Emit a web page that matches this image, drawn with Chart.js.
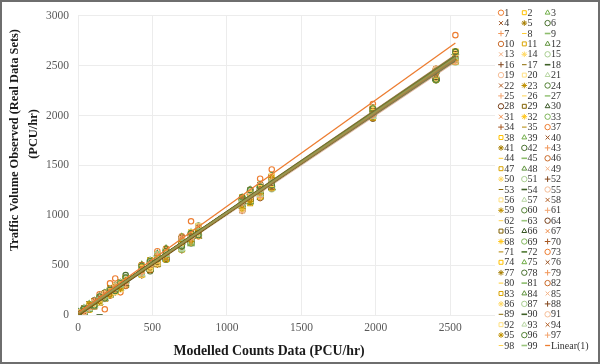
<!DOCTYPE html>
<html>
<head>
<meta charset="utf-8">
<script src="https://cdn.jsdelivr.net/npm/chart.js@4.4.1/dist/chart.umd.min.js"></script>
<style>
html,body{margin:0;padding:0;background:#ffffff;}
#wrap{width:600px;height:364px;position:relative;}
canvas{display:block;}
</style>
</head>
<body>
<div id="wrap"><canvas id="c" width="600" height="364"></canvas></div>
<script>
// ---------------- DATA ----------------
const modelledCounts = [5, 40, 75, 110, 145, 180, 215, 250, 285, 320, 428, 484, 533, 591, 697, 759, 809, 1102, 1156, 1223, 1301, 1980, 2404, 2534];

const seriesLabels = [1,2,3,4,5,6,7,8,9,10,11,12,13,14,15,16,17,18,19,20,21,22,23,24,25,26,27,28,29,30,31,32,33,34,35,
  37,38,39,40,41,42,43,44,45,46,47,48,49,50,51,52,53,54,55,56,57,58,59,60,61,62,63,64,65,66,67,68,69,70,
  71,72,73,74,75,76,77,78,79,80,81,82,83,84,85,86,87,88,89,90,91,92,93,94,95,96,97,98,99];

const trendLabel = 'Linear(1)';
const xTitle = 'Modelled Counts Data (PCU/hr)';
const yTitleLines = ['Traffic Volume Observed (Real Data Sets)', '(PCU/hr)'];
const xTickValues = [0, 500, 1000, 1500, 2000, 2500];
const yTickValues = [0, 500, 1000, 1500, 2000, 2500, 3000];

// observed volumes per series (same order as seriesLabels), one value per modelled count
const observedBySeries = [
 [18,45,95,128,207,57,317,367,227,375,460,533,640,667,790,940,850,1180,1240,1367,1460,2117,2460,2807],
 [12,28,98,95,170,160,245,236,318,305,485,452,590,562,748,728,875,1060,1238,1190,1372,1985,2460,2540],
 [0,66,60,138,126,210,198,280,268,350,402,535,510,642,662,815,790,1165,1130,1295,1268,2062,2365,2628],
 [22,35,90,100,175,170,232,290,275,362,470,455,600,570,740,742,868,1170,1228,1180,1360,1998,2452,2548],
 [3,58,62,140,140,215,248,232,322,300,395,540,518,565,765,808,795,1050,1145,1298,1270,2070,2372,2630],
 [25,20,102,90,178,195,200,278,262,400,492,440,572,650,680,732,880,1158,1245,1205,1375,2035,2358,2640],
 [8,55,55,142,122,220,244,222,330,352,415,525,502,638,645,800,810,1070,1150,1170,1290,1975,2470,2548],
 [16,30,95,125,168,158,255,288,300,368,478,530,596,548,745,820,782,1175,1235,1300,1265,2058,2435,2565],
 [1,60,108,85,150,200,190,240,258,312,405,468,560,648,700,725,878,1055,1130,1212,1385,2010,2375,2625],
 [28,42,58,135,182,178,226,296,318,292,472,450,518,575,770,790,815,1150,1205,1268,1300,2080,2448,2552],
 [5,70,82,100,120,218,262,235,272,358,420,520,608,625,660,822,860,1180,1120,1190,1365,1980,2380,2642],
 [14,22,96,142,150,162,240,272,325,300,500,545,570,560,725,712,788,1085,1250,1292,1275,2048,2462,2538],
 [20,48,52,92,172,206,200,226,305,372,412,458,516,660,755,800,898,1165,1168,1172,1350,2005,2352,2635],
 [0,32,108,128,132,222,252,285,270,340,458,528,592,590,672,745,805,1060,1222,1262,1395,2065,2442,2560],
 [30,62,70,105,185,175,195,250,330,298,485,448,538,635,782,832,870,1175,1150,1310,1262,1970,2468,2532],
 [9,25,60,150,128,165,232,282,262,368,398,510,505,570,650,735,792,1100,1260,1205,1340,2075,2365,2632],
 [13,56,100,95,150,208,268,230,312,310,475,548,602,652,730,812,892,1040,1170,1282,1378,2030,2455,2558],
 [6,38,84,130,0,182,215,262,295,338,430,488,560,605,715,765,840,1130,1195,1250,1330,2025,2420,2590],
 [24,24,66,88,172,168,245,286,322,305,495,478,575,556,760,722,878,1090,1238,1195,1290,2072,2360,2628],
 [2,68,90,140,130,218,198,238,265,360,410,538,520,655,668,822,800,1182,1140,1298,1380,1985,2462,2545],
 [19,44,110,106,178,180,258,276,278,345,462,462,610,580,742,752,885,1140,1222,1225,1285,2052,2448,2560],
 [10,18,62,130,140,155,210,292,310,300,488,522,505,628,690,800,818,1065,1160,1290,1360,1992,2370,2638],
 [27,58,78,92,185,200,238,236,270,368,420,470,590,566,778,738,860,1160,1255,1178,1345,2078,2440,2555],
 [0,50,102,135,160,222,222,265,328,318,480,548,560,645,655,815,800,1095,1135,1280,1300,1978,2382,2630],
 [12,30,50,110,124,178,262,248,282,355,400,482,512,600,752,750,895,1185,1228,1198,1392,2045,2350,2640],
 [7,66,92,140,180,165,200,284,315,302,498,462,598,578,700,830,785,1118,1176,1300,1275,2062,2475,2545],
 [23,34,106,98,140,210,240,232,300,375,438,530,560,658,765,765,880,1062,1245,1222,1362,2002,2395,2625],
 [4,52,68,145,168,190,212,282,270,328,470,490,535,565,675,732,822,1170,1155,1305,1310,2075,2440,2562],
 [16,26,98,86,135,170,252,250,320,310,415,452,595,620,735,818,800,1050,1240,1185,1385,1988,2462,2548],
 [11,64,58,130,182,205,224,290,282,350,490,540,525,596,770,780,885,1150,1168,1275,1280,2058,2368,2632],
 [21,40,104,105,138,215,236,238,310,298,432,482,580,650,665,735,810,1180,1215,1215,1368,2012,2430,2560],
 [3,28,76,138,170,160,205,280,270,362,475,528,512,585,725,810,868,1080,1255,1290,1298,2070,2454,2540],
 [29,56,60,112,148,195,262,250,320,322,405,472,605,630,752,752,792,1160,1142,1230,1390,1975,2372,2636],
 [8,40,110,92,188,180,215,238,265,352,465,535,548,590,690,828,888,1045,1232,1205,1276,2066,2445,2552],
 [14,70,78,142,126,212,250,282,300,305,500,468,520,668,785,740,815,1172,1175,1300,1350,2040,2362,2630],
 [0,22,92,110,168,190,196,270,322,340,425,512,600,578,712,795,850,1120,1230,1218,1302,2000,2458,2566],
 [20,60,54,128,140,168,268,245,282,372,488,482,530,648,660,812,872,1060,1155,1285,1388,2072,2368,2628],
 [6,32,100,100,178,222,232,286,300,318,410,535,608,605,758,740,800,1178,1250,1180,1310,2018,2440,2550],
 [26,46,66,140,130,184,205,236,330,300,480,462,515,590,718,825,888,1108,1185,1262,1280,1982,2378,2640],
 [2,64,94,96,176,172,252,272,270,362,440,545,580,660,690,755,832,1052,1132,1300,1370,2060,2452,2545],
 [15,30,82,132,148,210,220,292,312,310,495,495,552,555,768,720,880,1168,1242,1208,1398,1995,2362,2632],
 [22,52,58,112,185,175,240,242,285,350,402,458,598,632,680,812,790,1110,1205,1288,1288,2070,2465,2540],
 [5,24,108,148,132,205,202,282,318,330,470,528,520,600,745,825,862,1180,1160,1222,1345,2032,2390,2625],
 [18,62,72,88,168,158,265,258,272,375,398,500,565,648,705,732,895,1040,1250,1300,1378,2008,2450,2558],
 [10,38,98,122,140,215,215,238,325,298,488,478,598,568,770,775,805,1140,1172,1180,1272,2062,2370,2635],
 [28,56,64,105,178,192,230,290,290,360,445,545,530,620,665,825,870,1085,1222,1290,1350,2022,2460,2550],
 [1,26,90,140,122,170,258,262,265,318,505,462,505,645,745,722,818,1175,1138,1238,1395,2068,2375,2630],
 [16,68,54,96,188,210,205,246,318,338,420,505,588,575,780,795,882,1062,1248,1212,1290,1978,2442,2568],
 [9,45,104,128,135,165,226,294,300,312,475,530,552,658,690,768,790,1150,1180,1295,1335,2055,2365,2638],
 [24,20,80,102,156,220,248,230,275,370,408,478,612,560,758,815,878,1108,1218,1198,1382,2020,2468,2548],
 [3,54,92,138,182,186,200,285,330,300,492,500,515,640,718,738,838,1058,1142,1282,1275,2078,2388,2630],
 [13,36,50,115,132,196,265,262,268,358,430,540,578,598,660,828,805,1182,1250,1188,1365,1990,2445,2555],
 [0,64,100,142,172,162,222,240,322,330,482,458,605,610,778,752,895,1122,1165,1305,1315,2048,2358,2625],
 [20,32,70,95,148,212,250,288,290,310,405,528,530,650,728,810,795,1048,1238,1232,1348,2072,2455,2550],
 [11,50,110,130,180,190,205,250,258,365,498,482,508,572,700,730,872,1175,1195,1190,1392,2000,2372,2642],
 [7,22,62,108,125,170,260,275,325,300,438,545,600,618,765,832,828,1095,1140,1295,1272,2060,2462,2542],
 [26,58,86,138,166,212,228,235,285,372,480,460,525,588,672,760,892,1148,1225,1228,1360,2015,2380,2630],
 [2,42,96,98,190,160,200,292,305,330,415,520,590,665,752,802,798,1068,1260,1270,1300,2075,2440,2558],
 [17,68,58,132,148,222,262,248,270,345,490,470,565,560,705,738,882,1172,1152,1185,1385,1985,2355,2635],
 [9,28,105,100,178,180,238,280,330,302,432,540,520,640,778,815,840,1042,1212,1298,1285,2052,2465,2552],
 [29,48,74,148,130,202,210,236,268,370,470,472,608,602,668,740,805,1158,1248,1210,1368,2025,2385,2628],
 [0,34,92,90,172,168,252,290,312,315,405,530,530,660,750,822,888,1100,1138,1292,1302,2068,2448,2545],
 [19,64,62,120,148,220,222,255,275,355,498,492,588,565,775,760,795,1178,1255,1175,1390,1972,2370,2640],
 [8,42,110,140,120,192,265,232,322,300,445,548,508,628,670,830,855,1060,1160,1298,1338,2065,2458,2555],
 [23,25,80,100,188,160,198,292,295,345,485,455,612,570,740,732,885,1135,1230,1235,1275,2030,2375,2630],
 [4,60,98,135,156,215,242,272,265,375,412,512,558,650,782,800,815,1188,1140,1192,1372,2008,2455,2560],
 [14,40,54,108,135,185,210,250,328,312,505,538,512,600,700,722,878,1075,1258,1292,1310,2070,2358,2636],
 [28,66,106,142,172,178,258,288,290,362,440,470,598,640,758,815,808,1150,1200,1258,1355,1990,2462,2548],
 [1,36,84,96,140,218,200,230,318,305,478,545,568,570,722,758,898,1045,1158,1180,1390,2048,2380,2638],
 [17,50,68,128,182,198,235,284,300,350,410,488,525,668,775,822,835,1180,1222,1288,1282,2080,2440,2550],
 [8,18,100,150,130,160,262,250,270,330,492,528,612,612,665,740,870,1118,1142,1225,1365,2010,2372,2630],
 [25,62,88,102,166,205,212,292,322,300,448,460,522,590,752,795,790,1078,1242,1275,1330,2042,2470,2542],
 [6,44,56,132,182,186,250,236,288,368,405,545,580,650,712,830,890,1160,1182,1202,1278,1980,2362,2638],
 [16,24,110,95,128,212,205,275,312,310,495,485,565,560,785,722,825,1098,1258,1295,1385,2072,2452,2555],
 [11,58,72,125,190,172,258,290,268,355,450,530,605,632,660,818,878,1178,1140,1222,1295,2025,2385,2632],
 [22,32,92,145,148,208,198,240,330,325,482,478,530,668,762,768,800,1060,1232,1175,1362,2058,2448,2562],
 [3,70,58,110,170,190,236,276,295,372,418,538,575,585,700,812,895,1150,1192,1300,1300,1994,2365,2640],
 [13,22,104,88,150,162,262,258,310,302,498,508,608,642,758,730,822,1092,1258,1240,1380,2075,2458,2548],
 [27,52,82,150,136,222,222,230,262,352,470,455,520,580,728,828,885,1170,1150,1292,1330,2040,2372,2628],
 [0,36,94,118,180,192,248,292,320,368,412,545,512,660,672,752,808,1068,1240,1230,1280,2002,2445,2552],
 [18,64,64,98,124,200,205,260,300,310,500,482,595,610,775,818,888,1140,1165,1298,1392,2070,2368,2635],
 [10,40,100,135,168,168,258,236,322,355,450,530,565,558,705,780,840,1175,1225,1190,1305,2022,2458,2545],
 [30,20,54,110,188,210,232,290,270,335,485,460,615,668,748,740,880,1108,1135,1305,1352,2060,2380,2632],
 [4,60,104,148,142,178,198,245,305,372,405,520,525,632,680,832,818,1162,1252,1228,1285,1985,2465,2558],
 [15,48,78,90,178,222,268,298,265,300,490,545,582,585,778,795,790,1055,1195,1180,1388,2078,2360,2638],
 [8,30,88,132,128,165,242,236,322,345,470,472,608,650,660,760,898,1145,1248,1298,1325,2035,2452,2552],
 [24,66,108,120,182,205,210,276,295,318,425,530,540,562,765,822,820,1090,1150,1232,1295,1998,2375,2630],
 [0,40,58,142,156,192,255,266,332,365,500,452,502,632,722,735,878,1185,1258,1272,1372,2065,2448,2548],
 [17,56,94,102,138,215,220,246,278,298,448,540,605,668,685,810,835,1128,1168,1188,1280,2045,2365,2636],
 [12,26,70,135,192,160,260,285,305,360,438,490,552,578,768,778,802,1050,1235,1300,1340,2012,2468,2545],
 [27,50,102,118,126,212,205,228,268,335,492,465,518,650,715,830,890,1172,1150,1258,1395,2074,2370,2630],
 [5,72,60,92,172,175,245,292,325,375,410,545,598,605,665,732,812,1098,1250,1205,1300,1988,2455,2558],
 [21,32,92,150,180,215,268,255,290,310,478,505,530,662,785,800,880,1160,1175,1290,1275,2055,2378,2628],
 [2,48,110,128,130,182,200,285,262,352,440,475,595,575,738,738,830,1070,1140,1228,1380,2030,2450,2555],
 [14,62,80,95,186,165,252,240,318,375,492,540,562,640,690,822,800,1182,1255,1285,1305,2072,2360,2640],
 [25,26,56,145,148,218,222,290,298,310,418,482,610,598,770,755,890,1115,1178,1180,1362,1995,2462,2545],
 [7,56,104,112,134,200,262,262,330,355,495,465,520,652,700,825,832,1062,1242,1298,1288,2060,2375,2632],
 [18,42,86,132,172,172,232,248,282,328,445,525,585,588,752,778,865,1148,1188,1230,1350,2028,2438,2575]
];

// ---------------- STYLE ----------------
const FONT = '"Liberation Serif", "Times New Roman", serif';
const baseHues = [[237,125,49],[255,192,0],[112,173,71]];
const variantSteps = [0, -0.35, 0.2, -0.15, 0.4, -0.45, 0.5, -0.25, 0.3, -0.5, 0.1, -0.3];
const shapeCycle = ['circle','rect','triangle','crossRot','star','circle','cross','line','line'];
const shapeRadius = [2.7, 3.4, 3.3, 2.9, 3.0, 2.7, 3.1, 2.3, 3.1];

function rgbFor(idx) {
  const h = baseHues[idx % 3];
  const v = variantSteps[Math.floor(idx / 3) % variantSteps.length];
  return h.map(ch => Math.round(v >= 0 ? ch + (255 - ch) * v : ch * (1 + v)));
}
function colorFor(idx) { const c = rgbFor(idx); return `rgb(${c[0]},${c[1]},${c[2]})`; }
function trendColorFor(idx) {
  const c = rgbFor(idx).map(ch => Math.round(ch * 0.8));
  return `rgba(${c[0]},${c[1]},${c[2]},0.55)`;
}

function fitLine(xs, ys) {
  const pts = xs.map((x, i) => [x, ys[i]]).filter(p => p[1] !== null && p[1] !== undefined);
  const n = pts.length;
  let sx = 0, sy = 0, sxx = 0, sxy = 0;
  pts.forEach(([x, y]) => { sx += x; sy += y; sxx += x * x; sxy += x * y; });
  const slope = (n * sxy - sx * sy) / (n * sxx - sx * sx);
  const icpt = (sy - slope * sx) / n;
  const xmin = Math.min(...pts.map(p => p[0])), xmax = Math.max(...pts.map(p => p[0]));
  return [{x: xmin, y: icpt + slope * xmin}, {x: xmax, y: icpt + slope * xmax}];
}

const datasets = [];
const legendItems = [];
seriesLabels.forEach((lab, i) => {
  const styleIdx = lab - 1;
  const shape = shapeCycle[styleIdx % 9];
  const col = colorFor(styleIdx);
  const ys = observedBySeries[i];
  const bw = (styleIdx % 9 === 8) ? 1.7 : 1.15;
  datasets.push({
    label: String(lab),
    data: modelledCounts.map((x, k) => ({x: x, y: ys[k]})).filter(p => p.y !== null),
    pointStyle: shape,
    pointRadius: shapeRadius[styleIdx % 9],
    pointBorderWidth: bw,
    borderColor: col,
    backgroundColor: 'rgba(0,0,0,0)',
    showLine: false,
    order: -i
  });
  legendItems.push({text: String(lab), shape: shape, color: col, radius: Math.min(shapeRadius[styleIdx % 9], 2.8), bw: (styleIdx % 9 === 8) ? 1.6 : 1});
});
legendItems.push({text: trendLabel, shape: 'trend', color: colorFor(0)});

// linear trendlines of every series (only the first one keeps its legend entry)
seriesLabels.forEach((lab, i) => {
  const styleIdx = lab - 1;
  const isFirst = i === 0;
  datasets.push({
    label: isFirst ? trendLabel : 'trend ' + lab,
    data: fitLine(modelledCounts, observedBySeries[i]),
    showLine: true,
    borderColor: isFirst ? colorFor(0) : trendColorFor(styleIdx),
    borderWidth: isFirst ? 1.3 : 1.4,
    pointRadius: 0,
    backgroundColor: 'rgba(0,0,0,0)',
    order: isFirst ? -3000 : -1000 - i
  });
});

// ---------------- PLUGINS ----------------
const framePlugin = {
  id: 'frame',
  beforeDraw(chart) {
    const ctx = chart.ctx;
    ctx.save();
    ctx.fillStyle = '#ffffff';
    ctx.fillRect(0, 0, chart.width, chart.height);
    ctx.restore();
  },
  afterDraw(chart) {
    const ctx = chart.ctx;
    ctx.save();
    ctx.strokeStyle = '#6e6e6e';
    ctx.lineWidth = 2;
    ctx.strokeRect(1, 1, chart.width - 2, chart.height - 2);
    ctx.restore();
  }
};

const titlePlugin = {
  id: 'axisTitles',
  afterDraw(chart) {
    const ctx = chart.ctx;
    ctx.save();
    ctx.fillStyle = '#1a1a1a';
    ctx.textAlign = 'center';
    ctx.textBaseline = 'alphabetic';
    ctx.font = 'bold 13.8px ' + FONT;
    ctx.fillText(xTitle, 269, 355);
    ctx.font = 'bold 12.4px ' + FONT;
    ctx.save();
    ctx.translate(18, 140);
    ctx.rotate(-Math.PI / 2);
    ctx.fillText(yTitleLines[0], 0, 0);
    ctx.restore();
    ctx.save();
    ctx.translate(36.5, 134);
    ctx.rotate(-Math.PI / 2);
    ctx.fillText(yTitleLines[1], 0, 0);
    ctx.restore();
    ctx.restore();
  }
};

const legendPlugin = {
  id: 'gridLegend',
  afterDraw(chart) {
    const ctx = chart.ctx;
    ctx.save();
    ctx.font = '10px ' + FONT;
    ctx.textAlign = 'left';
    ctx.textBaseline = 'middle';
    legendItems.forEach((it, k) => {
      const col = k % 3, row = Math.floor(k / 3);
      const mx = 501 + col * 23.3;
      const my = 12.7 + row * 10.4;
      ctx.strokeStyle = it.color;
      if (it.shape === 'trend') {
        ctx.lineWidth = 1.3;
        ctx.beginPath();
        ctx.moveTo(mx - 2.5, my);
        ctx.lineTo(mx + 2.5, my);
        ctx.stroke();
      } else {
        ctx.lineWidth = it.bw;
        ctx.fillStyle = 'rgba(0,0,0,0)';
        Chart.helpers.drawPoint(ctx, {pointStyle: it.shape, radius: it.radius, borderWidth: it.bw, rotation: 0}, mx, my);
      }
      ctx.fillStyle = '#333333';
      ctx.fillText(it.text, mx + 3.3, my + 0.5);
    });
    ctx.restore();
  }
};

// ---------------- CHART ----------------
const tickFont = {family: FONT, size: 11.5};
new Chart(document.getElementById('c'), {
  type: 'scatter',
  data: {datasets: datasets},
  options: {
    responsive: false,
    animation: false,
    events: [],
    layout: {padding: {left: 0, right: 105, top: 15, bottom: 0}},
    plugins: {legend: {display: false}, tooltip: {enabled: false}, title: {display: false}},
    scales: {
      x: {
        type: 'linear', min: 0, max: 2800,
        afterFit(s) { s.height = 49; },
        afterBuildTicks(s) { s.ticks = xTickValues.map(v => ({value: v})); },
        ticks: {stepSize: 500, includeBounds: false, padding: 6, maxRotation: 0, color: '#595959', font: tickFont,
                callback: v => String(v)},
        grid: {color: '#ececec', lineWidth: 1, drawTicks: false},
        border: {display: false}
      },
      y: {
        type: 'linear', min: 0, max: 3000,
        afterFit(s) { s.width = 78; },
        afterBuildTicks(s) { s.ticks = yTickValues.map(v => ({value: v})); },
        ticks: {stepSize: 500, padding: 9, color: '#595959', font: tickFont, callback: v => String(v)},
        grid: {color: '#ececec', lineWidth: 1, drawTicks: false},
        border: {display: false}
      }
    }
  },
  plugins: [framePlugin, titlePlugin, legendPlugin]
});
</script>
</body>
</html>
